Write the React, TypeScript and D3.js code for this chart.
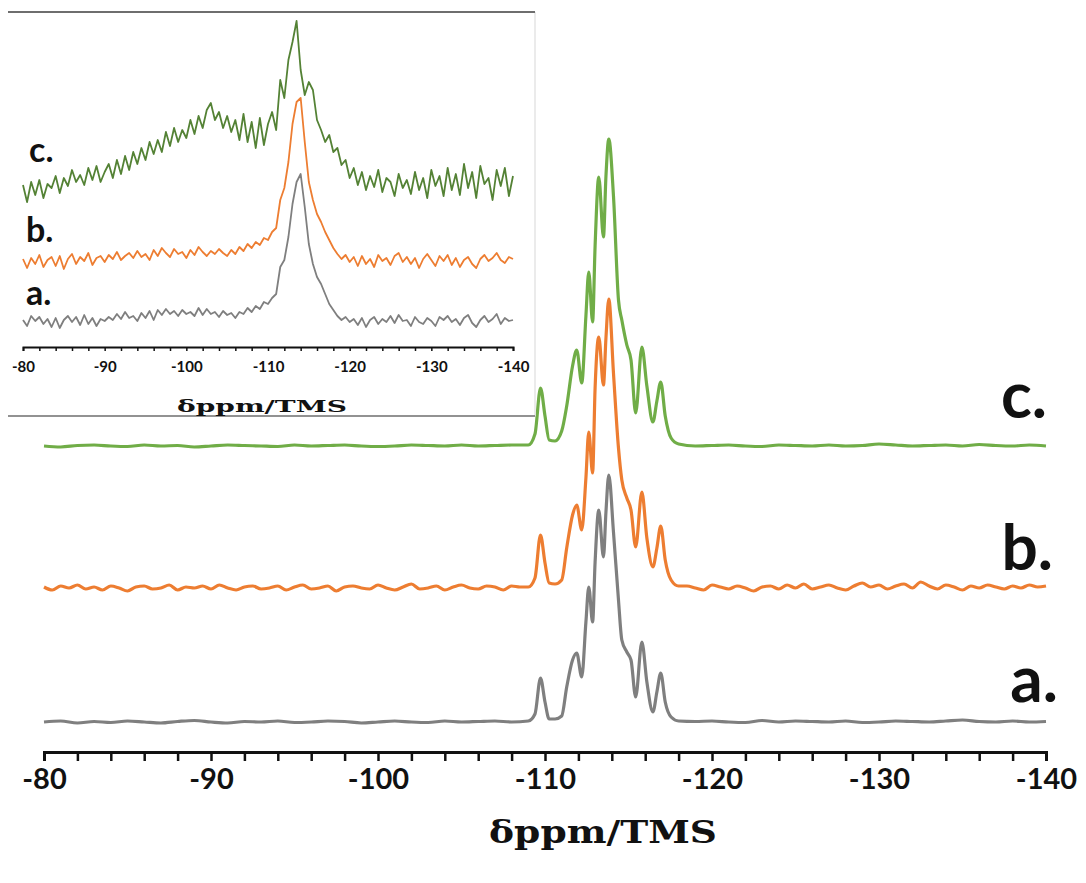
import React, { useEffect, useRef } from "react";
import * as d3 from "d3";

const W = 1086;
const H = 883;

// chemical shift axis: a tick every 2 ppm, a label every 10 ppm
const axisTicks = d3.range(-80, -141, -2);
const axisLabels = [-80, -90, -100, -110, -120, -130, -140];
const axisTitle = "δppm/TMS";
const seriesNames = ["a.", "b.", "c."];

// main spectra: baseline noise (heights above each trace's baseline)
// a and c read every 1 ppm, b (noisier) every 0.5 ppm
const basePpmLeft = d3.range(-80, -108.5, -1);
const basePpmRight = d3.range(-119, -140.5, -1);
const basePpmLeftFine = d3.range(-80, -108.75, -0.5);
const basePpmRightFine = d3.range(-118.5, -140.25, -0.5);

const baseLeftA = [0, 1, -1, 0.5, -0.5, 1, 0, -1, 0.5, 1.5, 0, -1, 0.5, 0, 1, -0.5, 0, 1, 0.5, -1, 0, 1, 0, -0.5, 1, 0, 0.5, 1, 0];
const baseRightA = [0.5, 1, 0, -0.5, 1.5, 0, 1, 0.5, 0, 1, -0.5, 0, 1, 0.5, 0, 1, 2, 0.5, 0, 1, 0, 0.5];
const baseLeftB = [
  1, -2, 2, 0, 3, -1, 1, -2, 2, 0,
  -3, 1, 2, -1, 0, 3, -2, 1, 0, 2,
  -1, 3, 0, -2, 1, 2, -1, 0, 2, -2,
  1, 3, -1, 0, 2, -3, 1, 2, 0, -1,
  3, 0, -2, 1, 4, -1, 0, 2, -2, 1,
  3, 0, -1, 2, 1, -2, 2, 1,
];
const baseRightB = [
  2, 0, -2, 3, 1, -1, 2, 0, -3, 1,
  2, -1, 3, 0, 4, -1, 1, 3, 0, -2,
  2, 5, 1, 3, -1, 2, 4, 0, 6, 2,
  -1, 3, 1, -2, 2, 0, 3, 1, -1, 2,
  0, 3, 1, 2,
];
const baseLeftC = [0, -1, 0.5, 1, 0, -0.5, 1, 0, 0.5, -1, 0, 1, 0.5, 0, -0.5, 1, 0, 0.5, 1, 0, -0.5, 0, 1, 0.5, 0, 1, 0, 0.5, 1];
const baseRightC = [0, 0.5, 1, 0, -0.5, 1, 0.5, 0, 1, 0, 0.5, 2, 1, 0, 0.5, 1, 0, 1.5, 0.5, 0, 1, 0];

// main spectra: the multiplet between -109 and -118 ppm
const peakPpm = [-109.0, -109.4, -109.73, -110.0, -110.25, -110.6, -111.0, -111.3, -111.65, -111.9, -112.2, -112.45, -112.62, -112.85, -113.0, -113.22, -113.5, -113.65, -113.82, -114.1, -114.4, -114.6, -114.9, -115.15, -115.43, -115.8, -116.1, -116.46, -116.7, -116.93, -117.2, -117.55, -118.0];
const peakA = [1, 8, 44, 20, 3, 3, 6, 35, 62, 69, 45, 100, 135, 100, 160, 212, 165, 210, 247, 190, 122, 82, 70, 62, 25, 80, 40, 10, 30, 49, 20, 5, 1];
const peakB = [1, 10, 53, 25, 5, 4, 8, 40, 73, 83, 58, 110, 156, 115, 200, 251, 203, 250, 289, 215, 140, 108, 90, 78, 41, 96, 50, 21, 40, 62, 28, 8, 2];
const peakC = [1, 12, 58, 30, 6, 5, 15, 40, 80, 96, 63, 130, 174, 124, 200, 269, 209, 270, 307, 250, 146, 126, 101, 86, 33, 99, 60, 24, 45, 64, 30, 8, 2];

// inset spectra, read every 0.5 ppm from -80 to -140
const insetA = [
  2, -4, 6, 1, 5, -2, 3, -5, 4, -6,
  2, 6, 0, 5, -3, 7, -2, 4, -4, 3,
  1, 5, 2, 8, 3, 10, 4, 6, 1, 9,
  4, 11, 2, 12, 7, 13, 8, 11, 6, 12,
  8, 10, 6, 14, 7, 13, 8, 10, 5, 11,
  7, 9, 4, 10, 8, 14, 10, 16, 13, 20,
  18, 24, 28, 55, 62, 85, 118, 140, 148, 115,
  78, 58, 45, 38, 28, 18, 12, 6, 2, 5,
  0, 3, -3, 4, -5, 2, 5, -2, 3, 0,
  6, -1, 7, 1, 2, -4, 5, 0, -2, 4,
  1, -4, 5, 2, 6, 0, 3, -3, 4, 7,
  -1, -5, 2, 6, 0, 3, 8, -2, 4, 1,
  2,
];
const insetB = [
  3, -6, 4, -2, 7, -5, 2, 5, -4, 6,
  -7, 3, 8, -2, 5, 1, 9, -3, 4, 6,
  0, 7, 3, 10, 2, 6, 9, 4, 11, 5,
  8, 2, 12, 6, 14, 9, 5, 13, 8, 10,
  4, 12, 7, 15, 10, 6, 11, 8, 13, 9,
  6, 12, 8, 15, 11, 18, 14, 20, 17, 24,
  22, 30, 34, 62, 74, 100, 138, 160, 164, 120,
  80, 62, 48, 40, 30, 22, 14, 8, 3, 7,
  0, 5, -4, 6, -2, 3, -5, 7, 1, 4,
  -3, 6, 9, 0, 5, -2, 4, -6, 3, 8,
  2, -4, 6, 1, 7, -3, 4, -5, 2, 5,
  -2, -6, 3, 7, 1, 4, 9, 2, -1, 5,
  3,
];
const insetC = [
  5, -12, 8, -5, 10, -8, 6, 2, 14, -3,
  12, 4, 20, 8, 15, 5, 22, 10, 24, 8,
  18, 26, 12, 30, 16, 34, 20, 38, 26, 42,
  30, 48, 36, 50, 38, 58, 44, 62, 48, 60,
  52, 70, 56, 74, 62, 80, 87, 70, 78, 62,
  74, 58, 70, 50, 76, 48, 68, 42, 72, 45,
  66, 78, 60, 110, 92, 130, 148, 169, 120, 95,
  108, 100, 70, 60, 48, 55, 38, 42, 25, 30,
  12, 22, 5, 18, 0, 14, 3, 20, -2, 12,
  8, -6, 16, 2, 10, -4, 18, 0, 12, -8,
  20, 4, 14, -6, 22, 0, 16, -5, 26, 2,
  18, -8, 24, 6, 12, -10, 20, 4, 22, -6,
  14,
];

const mainColors = ["#7f7f7f", "#ed7d31", "#70ad47"];
const insetColors = ["#7f7f7f", "#ed7d31", "#548235"];

const SANS = "Lato, 'Open Sans', sans-serif";
const SERIF = "'DejaVu Serif', 'Liberation Serif', serif";

type Pt = [number, number];

const App = () => {
  const ref = useRef<SVGSVGElement>(null);

  useEffect(() => {
    if (!ref.current) return;
    const svg = d3.select(ref.current);
    svg.selectAll("*").remove();

    // ---------- main chart ----------
    const x = d3.scaleLinear().domain([-80, -140]).range([44, 1046]);
    const y = d3.scaleLinear().domain([0, 700]).range([752, 52]);
    const mainOffsets = [30, 164, 306];

    const pieces: [number[], number[], number[], number[]][] = [
      [basePpmLeft, baseLeftA, basePpmRight, baseRightA],
      [basePpmLeftFine, baseLeftB, basePpmRightFine, baseRightB],
      [basePpmLeft, baseLeftC, basePpmRight, baseRightC],
    ];
    const peaks = [peakA, peakB, peakC];

    const mainData: Pt[][] = pieces.map(([pl, l, pr, r], k) => [
      ...l.map((v, i) => [pl[i], v] as Pt),
      ...peaks[k].map((v, i) => [peakPpm[i], v] as Pt),
      ...r.map((v, i) => [pr[i], v] as Pt),
    ]);

    mainData.forEach((d, k) => {
      const line = d3.line<Pt>()
        .x(p => x(p[0]))
        .y(p => y(p[1] + mainOffsets[k]))
        .curve(d3.curveMonotoneX);
      svg.append("path")
        .attr("d", line(d))
        .attr("fill", "none")
        .attr("stroke", mainColors[k])
        .attr("stroke-width", 3.2)
        .attr("stroke-linejoin", "round");
    });

    const mainAxis = d3.axisBottom(x)
      .tickValues(axisTicks)
      .tickSize(9)
      .tickSizeOuter(9)
      .tickFormat(d => (axisLabels.includes(+d) ? String(d) : ""));

    const gx = svg.append("g").attr("transform", "translate(0,752)").call(mainAxis);
    gx.select(".domain").attr("stroke", "#111").attr("stroke-width", 3);
    gx.selectAll(".tick line").attr("stroke", "#111").attr("stroke-width", 2.5);
    gx.selectAll(".tick text")
      .attr("y", 37).attr("dy", 0)
      .attr("fill", "#111")
      .attr("font-family", SANS)
      .attr("font-weight", 700)
      .attr("font-size", 29);

    svg.append("text")
      .attr("x", 603).attr("y", 843)
      .attr("text-anchor", "middle")
      .attr("font-family", SERIF).attr("font-weight", 700).attr("font-size", 31)
      .attr("textLength", 228).attr("lengthAdjust", "spacingAndGlyphs")
      .attr("fill", "#111")
      .text(axisTitle);

    const mainLabelPos = [[1058, 702], [1053, 570], [1047, 418]];
    seriesNames.forEach((s, k) => {
      svg.append("text")
        .attr("x", mainLabelPos[k][0]).attr("y", mainLabelPos[k][1])
        .attr("text-anchor", "end")
        .attr("font-family", SANS).attr("font-weight", 700).attr("font-size", 64)
        .attr("fill", "#111")
        .text(s);
    });

    // ---------- inset ----------
    const inset = svg.append("g");
    inset.append("rect").attr("x", 8).attr("y", 12).attr("width", 527).attr("height", 404).attr("fill", "#fff");
    inset.append("line").attr("x1", 535).attr("x2", 535).attr("y1", 12).attr("y2", 416).attr("stroke", "#e4e4e4").attr("stroke-width", 1.5);
    inset.append("line").attr("x1", 8).attr("x2", 535).attr("y1", 12).attr("y2", 12).attr("stroke", "#6e6e6e").attr("stroke-width", 2);
    inset.append("line").attr("x1", 8).attr("x2", 535).attr("y1", 416).attr("y2", 416).attr("stroke", "#6e6e6e").attr("stroke-width", 1.5);

    const xi = d3.scaleLinear().domain([-80, -140]).range([23, 513]);
    const yi = d3.scaleLinear().domain([0, 340]).range([347, 7]);
    const insetOffsets = [25, 85, 157];

    [insetA, insetB, insetC].forEach((vals, k) => {
      const line = d3.line<number>()
        .x((_, i) => xi(-80 - i * 0.5))
        .y(v => yi(v + insetOffsets[k]));
      inset.append("path")
        .attr("d", line(vals))
        .attr("fill", "none")
        .attr("stroke", insetColors[k])
        .attr("stroke-width", 1.8)
        .attr("stroke-linejoin", "round");
    });

    const insetAxis = d3.axisBottom(xi)
      .tickValues(axisTicks)
      .tickSize(4)
      .tickSizeOuter(4)
      .tickFormat(d => (axisLabels.includes(+d) ? String(d) : ""));

    const gi = inset.append("g").attr("transform", "translate(0,347)").call(insetAxis);
    gi.select(".domain").attr("stroke", "#111").attr("stroke-width", 2);
    gi.selectAll(".tick line").attr("stroke", "#111").attr("stroke-width", 1.5);
    gi.selectAll(".tick text")
      .attr("y", 25).attr("dy", 0)
      .attr("fill", "#111")
      .attr("font-family", SANS)
      .attr("font-weight", 700)
      .attr("font-size", 15);

    inset.append("text")
      .attr("x", 262).attr("y", 412)
      .attr("text-anchor", "middle")
      .attr("font-family", SERIF).attr("font-weight", 700).attr("font-size", 17)
      .attr("textLength", 170).attr("lengthAdjust", "spacingAndGlyphs")
      .attr("fill", "#111")
      .text(axisTitle);

    const insetLabelPos = [[26, 305], [26, 242], [29, 162]];
    seriesNames.forEach((s, k) => {
      inset.append("text")
        .attr("x", insetLabelPos[k][0]).attr("y", insetLabelPos[k][1])
        .attr("font-family", SANS).attr("font-weight", 700).attr("font-size", 34)
        .attr("fill", "#111")
        .text(s);
    });
  }, []);

  return (
    <div style={{ position: "absolute", left: 0, top: 0, background: "#fff" }}>
      <svg ref={ref} width={W} height={H} style={{ display: "block" }} />
    </div>
  );
};

export default App;
